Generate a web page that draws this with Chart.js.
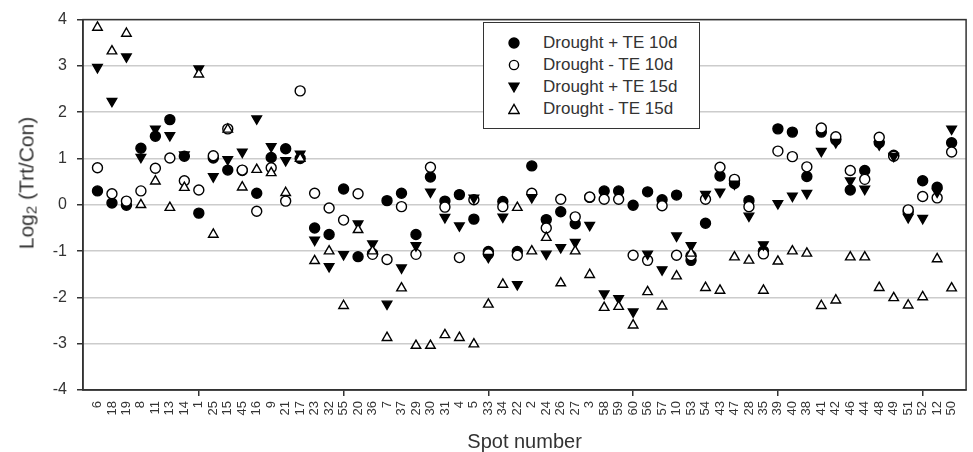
<!DOCTYPE html>
<html>
<head>
<meta charset="utf-8">
<script src="https://cdn.jsdelivr.net/npm/chart.js@4/dist/chart.umd.min.js"></script>
<style>
  body { margin: 0; background: #fff; }
  #wrap { position: relative; width: 973px; height: 452px; font-family: "Liberation Sans", Arial, sans-serif; color: #333; }
  #legend {
    position: absolute; left: 483px; top: 22px; width: 217px; height: 107px;
    box-sizing: border-box; border: 1.5px solid #333; background: #fff;
    font-size: 17px;
  }
  .row { position: absolute; left: 0; height: 22px; line-height: 22px; white-space: pre; }
  .row svg { position: absolute; left: 24px; top: 5px; }
  .row span { position: absolute; left: 59px; top: 0; }
  #ytitle {
    position: absolute; left: 27px; top: 183px; font-size: 21px; white-space: nowrap;
    transform: translate(-50%, -50%) rotate(-90deg);
  }
  #ytitle sub { font-size: 15px; vertical-align: -3px; }
</style>
</head>
<body>
<div id="wrap">
  <canvas id="chart"></canvas>
  <div id="legend"></div>
  <div id="ytitle">Log<sub>2</sub> (Trt/Con)</div>
</div>
<script>
// spot numbers along the x axis
const spots = ["6","18","19","8","11","13","14","1","25","15","45","16","9","21","17","23","32","55","20","36",
  "7","37","29","30","31","4","5","33","34","22","2","24","26","27","3","58","59","60","56","57",
  "10","53","54","43","47","28","35","39","40","38","41","42","46","44","48","49","51","52","12","50"];

const seriesNames = ["Drought + TE 10d", "Drought - TE 10d", "Drought + TE 15d", "Drought - TE 15d"];

// log2 (Trt/Con)
const plusTE10 = [0.30,0.04,-0.01,1.22,1.48,1.84,1.05,-0.18,1.01,0.75, 0.74,0.25,1.02,1.21,1.00,-0.50,-0.64,0.34,-1.12,-1.05,
  0.09,0.25,-0.64,0.60,0.08,0.22,-0.31,-1.01,0.07,-1.01, 0.84,-0.32,-0.15,-0.41,0.16,0.30,0.30,-0.01,0.28,0.11,
  0.21,-1.20,-0.40,0.62,0.46,0.09,-1.00,1.64,1.57,0.61, 1.57,1.40,0.32,0.74,1.34,1.07,-0.15,0.52,0.38,1.34];
const minusTE10 = [0.80,0.24,0.08,0.30,0.79,1.01,0.52,0.32,1.06,1.64, 0.75,-0.14,0.80,0.08,2.46,0.25,-0.07,-0.33,0.24,-1.07,
  -1.18,-0.04,-1.07,0.81,-0.05,-1.14,0.11,-1.06,-0.04,-1.09, 0.25,-0.50,0.12,-0.26,0.17,0.12,0.12,-1.09,-1.20,-0.02,
  -1.09,-1.10,0.12,0.81,0.55,-0.04,-1.06,1.16,1.04,0.82, 1.66,1.47,0.74,0.55,1.46,1.05,-0.11,0.18,0.15,1.14];
const plusTE15 = [2.97,2.24,3.20,1.03,1.64,1.50,1.08,2.94,0.61,0.98, 1.14,1.86,1.26,0.96,1.10,-0.76,-1.33,-1.07,-0.41,-0.84,
  -2.14,-1.36,-0.88,0.28,-0.27,-0.45,0.15,-1.13,-0.26,-1.72, 0.16,-1.06,-0.92,-0.81,-0.44,-1.92,-2.02,-2.31,-1.06,-1.40,
  -0.67,-0.88,0.23,0.28,0.45,-0.24,-0.86,0.03,0.19,0.25, 1.16,1.35,0.52,0.34,1.30,1.05,-0.27,-0.29,0.28,1.64];
const minusTE15 = [3.83,3.32,3.70,0.00,0.51,-0.06,0.37,2.82,-0.64,1.63, 0.38,0.76,0.69,0.26,1.00,-1.21,-1.00,-2.18,-0.54,-1.00,
  -2.87,-1.80,-3.04,-3.04,-2.81,-2.87,-3.01,-2.15,-1.72,-0.06, -1.00,-0.71,-1.69,-1.00,-1.51,-2.22,-2.20,-2.60,-1.88,-2.19,
  -1.54,-1.05,-1.79,-1.85,-1.13,-1.20,-1.85,-1.22,-1.00,-1.05, -2.18,-2.06,-1.13,-1.13,-1.79,-2.01,-2.17,-1.99,-1.17,-1.80];

const yTicks = [-4, -3, -2, -1, 0, 1, 2, 3, 4];

const FONT = '"Liberation Sans", Arial, sans-serif';
const INK = "#333";

// blank slot on each side, like the original axis
const xLabels = ["", ...spots, ""];
const pad = arr => [null, ...arr, null];

const styles = [
  { data: plusTE10, pointStyle: "circle", bg: "#000", radius: 5, rotation: 0, order: 3 },
  { data: minusTE10, pointStyle: "circle", bg: "#fff", radius: 5, rotation: 0, order: 2 },
  { data: plusTE15, pointStyle: "triangle", bg: "#000", radius: 5.5, rotation: 180, order: 1 },
  { data: minusTE15, pointStyle: "triangle", bg: "#fff", radius: 5.5, rotation: 0, order: 0 }
];

const datasets = styles.map((s, i) => ({
  label: seriesNames[i],
  data: pad(s.data),
  showLine: false,
  pointStyle: s.pointStyle,
  pointRotation: s.rotation,
  pointRadius: s.radius,
  pointBackgroundColor: s.bg,
  pointBorderColor: "#000",
  pointBorderWidth: 1.4,
  order: s.order,
  clip: false
}));

const frame = {
  id: "frame",
  beforeDatasetsDraw(chart) {
    const { ctx, chartArea: a } = chart;
    ctx.save();
    ctx.strokeStyle = INK;
    ctx.lineWidth = 1.5;
    ctx.strokeRect(a.left, a.top, a.right - a.left, a.bottom - a.top);
    ctx.restore();
  }
};

new Chart(document.getElementById("chart"), {
  type: "line",
  data: { labels: xLabels, datasets },
  plugins: [frame],
  options: {
    responsive: true,
    maintainAspectRatio: false,
    animation: false,
    layout: { padding: { top: 17, right: 1, left: 0, bottom: 0 } },
    plugins: { legend: { display: false }, tooltip: { enabled: false } },
    scales: {
      x: {
        type: "category",
        ticks: {
          autoSkip: false, maxRotation: 90, minRotation: 90,
          font: { family: FONT, size: 13 }, color: INK, padding: 5
        },
        grid: {
          drawOnChartArea: false, tickLength: 6, lineWidth: 1.5,
          tickColor: ctx => (ctx.index % 10 === 8 ? INK : "rgba(0,0,0,0)")
        },
        border: { color: INK, width: 1.5 },
        title: {
          display: true, text: "Spot number", color: INK,
          font: { family: FONT, size: 20, lineHeight: 1 }, padding: { top: 0, bottom: 0 }
        },
        afterFit: s => { s.height = 62; s.paddingLeft = 0; s.paddingRight = 0; }
      },
      y: {
        min: yTicks[0], max: yTicks[yTicks.length - 1],
        afterBuildTicks: s => { s.ticks = yTicks.map(v => ({ value: v })); },
        ticks: { font: { family: FONT, size: 16 }, color: INK, padding: 10 },
        grid: { color: "#cccccc", lineWidth: 1.5, tickLength: 6, tickColor: INK },
        border: { color: INK, width: 1.5 },
        afterFit: s => { s.width = 83; }
      }
    }
  }
});

// legend box inside the plot, as in the figure
const markers = [
  '<circle cx="6" cy="6" r="5" fill="#000" stroke="#000" stroke-width="1.4"/>',
  '<circle cx="6" cy="6" r="4.6" fill="#fff" stroke="#000" stroke-width="1.4"/>',
  '<polygon points="0.8,2 11.2,2 6,11" fill="#000" stroke="#000" stroke-width="1.2"/>',
  '<polygon points="0.8,10.5 11.2,10.5 6,1.5" fill="#fff" stroke="#000" stroke-width="1.4"/>'
];
const legend = document.getElementById("legend");
seriesNames.forEach((name, i) => {
  const row = document.createElement("div");
  row.className = "row";
  row.style.top = (9 + i * 22) + "px";
  row.innerHTML = '<svg width="12" height="12" viewBox="0 0 12 12">' + markers[i] + '</svg><span>' + name + '</span>';
  legend.appendChild(row);
});
</script>
</body>
</html>
